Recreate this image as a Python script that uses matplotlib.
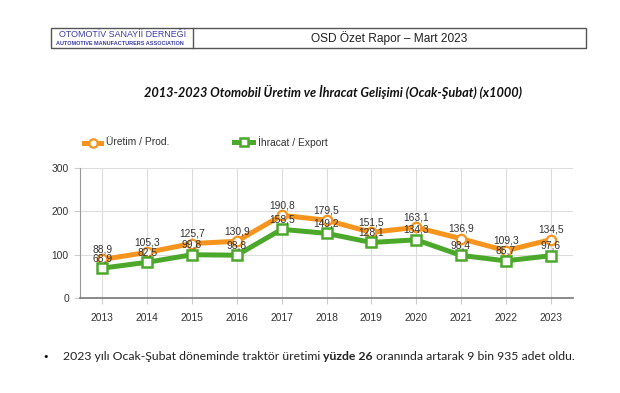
import matplotlib
matplotlib.use("Agg")
import matplotlib.pyplot as plt
from matplotlib.patches import Rectangle
from matplotlib.lines import Line2D

years = [2013, 2014, 2015, 2016, 2017, 2018, 2019, 2020, 2021, 2022, 2023]
production = [88.9, 105.3, 125.7, 130.9, 190.8, 179.5, 151.5, 163.1, 136.9, 109.3, 134.5]
exports = [68.9, 82.5, 99.8, 98.8, 158.5, 149.2, 128.1, 134.3, 98.4, 85.7, 97.6]
yticks = [0, 100, 200, 300]
series_names = ["Üretim / Prod.", "İhracat / Export"]

title = "2013-2023 Otomobil Üretim ve İhracat Gelişimi (Ocak-Şubat) (x1000)"
header_left = "OTOMOTİV SANAYİİ DERNEĞİ"
header_left_sub = "AUTOMOTIVE MANUFACTURERS ASSOCIATION"
header_right = "OSD Özet Rapor – Mart 2023"
note_parts = [("2023 yılı Ocak-Şubat döneminde traktör üretimi ", "normal"),
              ("yüzde 26", "bold"),
              (" oranında artarak 9 bin 935 adet oldu.", "normal")]

ORANGE = "#F7941D"
GREEN = "#4CA82A"
W, H = 620, 393

fig = plt.figure(figsize=(6.2, 3.93), dpi=100)
fig.patch.set_facecolor("white")

def fx(px):
    return px / W

def fy(py):
    return 1 - py / H

# Header box
fig.patches.append(Rectangle((fx(50.5), fy(47.5)), fx(585.5) - fx(50.5), fy(28) - fy(47.5),
                             transform=fig.transFigure, fill=False, edgecolor="#555555", linewidth=1.0))
fig.lines.append(Line2D([fx(193), fx(193)], [fy(28), fy(47.5)], transform=fig.transFigure,
                        color="#555555", linewidth=1.0))
fig.text(fx(123), fy(34.8), header_left, ha="center", va="center", fontsize=6.4,
         color="#3B3BA8", family="Liberation Sans")
fig.text(fx(120), fy(43.2), header_left_sub, ha="center", va="center", fontsize=4.0,
         color="#3B3BA8", family="Liberation Sans", fontweight="bold")
fig.text(fx(389), fy(38), header_right, ha="center", va="center", fontsize=8.6,
         color="#222222", family="Liberation Sans")

# Title
fig.text(fx(333), fy(92), title, ha="center", va="center", fontsize=9.2,
         fontweight="bold", style="italic", color="#111111", family="Lato")

# Axes
ax = fig.add_axes([fx(80), fy(298), fx(573) - fx(80), fy(168) - fy(298)])
ax.set_xlim(2012.5, 2023.5)
ax.set_ylim(0, 300)
ax.set_xticks(years)
ax.set_yticks(yticks)
ax.grid(True, color="#DDDDDD", linewidth=0.8)
ax.set_axisbelow(True)
for s in ["top", "right"]:
    ax.spines[s].set_visible(False)
ax.spines["left"].set_color("#999999")
ax.spines["bottom"].set_color("#777777")
ax.spines["bottom"].set_linewidth(1.2)
ax.tick_params(axis="both", length=4, color="#CCCCCC", labelsize=7.4, labelcolor="#333333")
ax.tick_params(axis="y", pad=4)
ax.tick_params(axis="x", pad=7)
for lab in ax.get_xticklabels() + ax.get_yticklabels():
    lab.set_family("Liberation Sans")

ax.plot(years, production, color=ORANGE, linewidth=3.6, marker="o", markersize=6.8,
        markerfacecolor="white", markeredgecolor=ORANGE, markeredgewidth=1.6, zorder=3,
        clip_on=False)
ax.plot(years, exports, color=GREEN, linewidth=3.6, marker="s", markersize=6.8,
        markerfacecolor="white", markeredgecolor=GREEN, markeredgewidth=1.8, zorder=3,
        clip_on=False)

def fmt(v):
    return f"{v:.1f}".replace(".", ",")

for x, v in zip(years, production):
    ax.annotate(fmt(v), (x, v), xytext=(0, 5), textcoords="offset pixels", ha="center",
                va="bottom", fontsize=7.4, color="#333333", family="Liberation Sans", zorder=5)
for x, v in zip(years, exports):
    ax.annotate(fmt(v), (x, v), xytext=(0, 5), textcoords="offset pixels", ha="center",
                va="bottom", fontsize=7.4, color="#333333", family="Liberation Sans", zorder=5)

# Legend (manual)
fig.lines.append(Line2D([fx(84), fx(101)], [fy(142.5), fy(142.5)], transform=fig.transFigure,
                        color=ORANGE, linewidth=3.6))
fig.lines.append(Line2D([fx(92.5)], [fy(142.5)], transform=fig.transFigure, color=ORANGE,
                        marker="o", markersize=6, markerfacecolor="white",
                        markeredgecolor=ORANGE, markeredgewidth=1.6, linestyle="none"))
fig.text(fx(106), fy(142), series_names[0], ha="left", va="center", fontsize=7.4,
         color="#333333", family="Liberation Sans")
fig.lines.append(Line2D([fx(234), fx(253)], [fy(142), fy(142)], transform=fig.transFigure,
                        color=GREEN, linewidth=3.6))
fig.lines.append(Line2D([fx(243.5)], [fy(142)], transform=fig.transFigure, color=GREEN,
                        marker="s", markersize=6, markerfacecolor="white",
                        markeredgecolor=GREEN, markeredgewidth=1.8, linestyle="none"))
fig.text(fx(258), fy(142), series_names[1], ha="left", va="center", fontsize=7.4,
         color="#333333", family="Liberation Sans")

# Bullet text
fig.text(fx(46), fy(357), "•", ha="center", va="center", fontsize=8, color="#111111",
         family="DejaVu Sans")
renderer = fig.canvas.get_renderer()
xpos = 63
for txt, weight in note_parts:
    t = fig.text(fx(xpos), fy(357), txt, ha="left", va="center", fontsize=8.85,
                 color="#222222", family="Lato", fontweight=weight)
    bb = t.get_window_extent(renderer=renderer)
    xpos += bb.width

fig.savefig("out.png", dpi=100, facecolor="white")
